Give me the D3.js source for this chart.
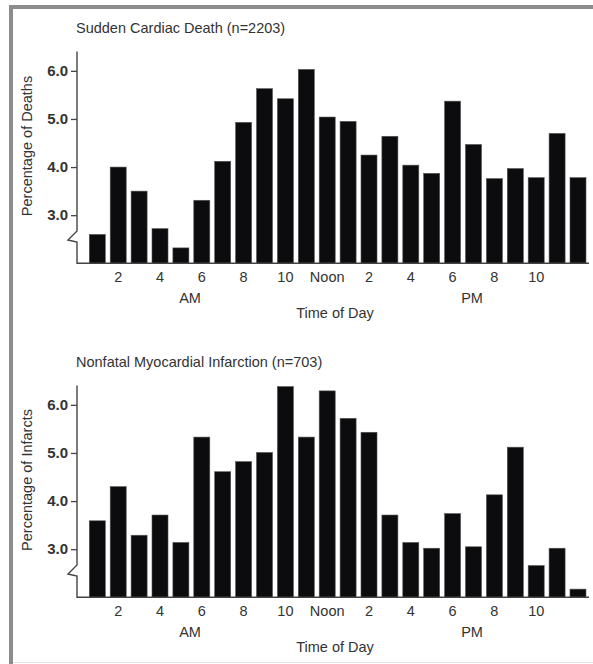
<!DOCTYPE html>
<html>
<head>
<meta charset="utf-8">
<script src="https://cdn.jsdelivr.net/npm/d3@7"></script>
<style>
  body { margin: 0; background: #fff; }
  svg { display: block; font-family: "Liberation Sans", Arial, sans-serif; }
  .lbl { fill: #333; font-size: 14.5px; }
  .y-axis text { fill: #333; font-size: 15px; font-weight: bold; }
  .x-axis text { fill: #333; font-size: 14.5px; }
</style>
</head>
<body>
<div class="chart"></div>
<script>
/*categories: hour of the day*/
var hours = [1,2,3,4,5,6,7,8,9,10,11,12,13,14,15,16,17,18,19,20,21,22,23,24];
var tickHours = [2,4,6,8,10,12,14,16,18,20,22];
var tickText = ["2","4","6","8","10","Noon","2","4","6","8","10"];
var yTicks = [3,4,5,6];

/*series values (percent)*/
var deathPct = [2.6,4.0,3.5,2.72,2.32,3.31,4.12,4.93,5.63,5.42,6.03,5.04,4.95,4.25,4.64,4.04,3.87,5.37,4.47,3.76,3.97,3.78,4.70,3.78];
var infarctPct = [3.59,4.30,3.29,3.71,3.14,5.33,4.61,4.82,5.01,6.38,5.33,6.29,5.72,5.43,3.71,3.14,3.02,3.74,3.05,4.13,5.12,2.66,3.02,2.17];

var panels = [
  {title: "Sudden Cardiac Death (n=2203)", ylabel: "Percentage of Deaths", values: deathPct, dy: 0},
  {title: "Nonfatal Myocardial Infarction (n=703)", ylabel: "Percentage of Infarcts", values: infarctPct, dy: 334}
];

var width = 593, height = 664;
var canvas = d3.select(".chart").append("svg")
  .attr("width", width)
  .attr("height", height);

/*frame*/
canvas.append("path")
  .attr("d", "M11,664 L11,7 L593,7")
  .attr("fill", "none")
  .attr("stroke", "#8c8c8c")
  .attr("stroke-width", 4);
canvas.append("line")
  .attr("x1", 13).attr("x2", 593).attr("y1", 662.5).attr("y2", 662.5)
  .attr("stroke", "#e2e2e2").attr("stroke-width", 1);

var axisX = 77, baseY = 263.3, lineEnd = 589;

var xScale = d3.scaleBand()
  .domain(hours)
  .range([89.3, 586])
  .paddingInner(0.234)
  .paddingOuter(0);

var yScale = d3.scaleLinear()
  .domain([2, 6.4])
  .range([baseY, 51.6]);

panels.forEach(function(p){
  var g = canvas.append("g").attr("transform", "translate(0," + p.dy + ")");

  g.append("text").attr("class", "lbl")
    .attr("x", 76).attr("y", 33)
    .text(p.title);

  g.selectAll("rect.bar")
    .data(p.values)
    .enter().append("rect")
    .attr("class", "bar")
    .attr("x", function(d, i){ return xScale(hours[i]); })
    .attr("y", function(d){ return yScale(d); })
    .attr("width", xScale.bandwidth())
    .attr("height", function(d){ return baseY - yScale(d); })
    .attr("fill", "#0c0c0e")
    .attr("stroke", "#555")
    .attr("stroke-width", 0.6);

  // y axis with break
  var yAxis = d3.axisLeft(yScale)
    .tickValues(yTicks)
    .tickFormat(d3.format(".1f"))
    .tickSize(6)
    .tickPadding(3);
  var ya = g.append("g")
    .attr("class", "y-axis")
    .attr("transform", "translate(" + axisX + ",0)")
    .call(yAxis);
  ya.select(".domain").remove();
  ya.selectAll("line").attr("stroke", "#444").attr("stroke-width", 1.3);

  g.append("path")
    .attr("d", "M" + axisX + "," + yScale(6.4) + " L" + axisX + ",231 L68,240 L" + axisX + ",242 L" + axisX + "," + baseY + " L" + lineEnd + "," + baseY)
    .attr("fill", "none")
    .attr("stroke", "#444")
    .attr("stroke-width", 1.4);

  // x labels
  var xAxis = d3.axisBottom(xScale)
    .tickValues(tickHours)
    .tickFormat(function(d){ return tickText[tickHours.indexOf(d)]; })
    .tickSize(0)
    .tickPadding(8.4);
  var xa = g.append("g")
    .attr("class", "x-axis")
    .attr("transform", "translate(0," + baseY + ")")
    .call(xAxis);
  xa.select(".domain").remove();

  g.append("text").attr("class", "lbl")
    .attr("x", 190).attr("y", 303).attr("text-anchor", "middle").text("AM");
  g.append("text").attr("class", "lbl")
    .attr("x", 472).attr("y", 303).attr("text-anchor", "middle").text("PM");
  g.append("text").attr("class", "lbl")
    .attr("x", 335).attr("y", 318).attr("text-anchor", "middle").text("Time of Day");

  g.append("text").attr("class", "lbl")
    .attr("transform", "translate(32,146) rotate(-90)")
    .attr("text-anchor", "middle")
    .text(p.ylabel);
});
</script>
</body>
</html>
